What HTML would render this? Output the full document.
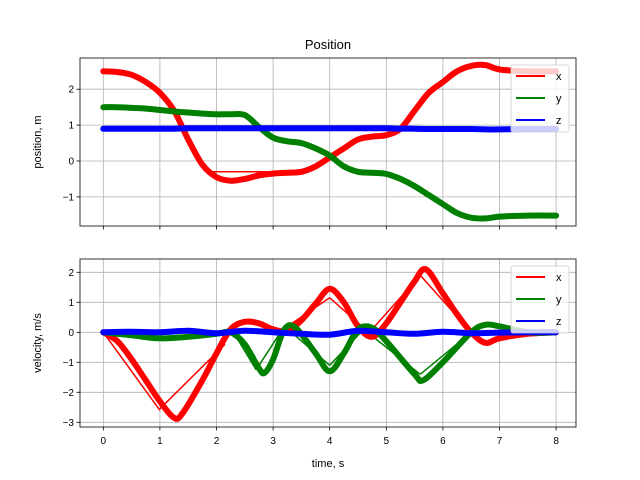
<!DOCTYPE html>
<html><head><meta charset="utf-8"><style>
body{margin:0;background:#fff}
svg{display:block;font-family:"Liberation Sans","DejaVu Sans",sans-serif}
</style></head><body>
<svg id="c" width="640" height="480" viewBox="0 0 640 480">
<rect width="640" height="480" fill="#fff"/>
</svg>
<script>
const xTicks=[0,1,2,3,4,5,6,7,8];
const posTicks=[-1,0,1,2];
const velTicks=[-3,-2,-1,0,1,2];
const posT=[0,0.25,0.5,0.75,1,1.25,1.5,1.75,2,2.25,2.5,2.75,3,3.25,3.5,3.75,4,4.25,4.5,4.75,5,5.25,5.5,5.75,6,6.25,6.5,6.75,7,7.5,8];
const posX=[2.5,2.48,2.4,2.2,1.9,1.4,0.6,-0.1,-0.45,-0.55,-0.5,-0.4,-0.35,-0.33,-0.3,-0.15,0.1,0.35,0.6,0.68,0.72,0.9,1.4,1.9,2.2,2.5,2.65,2.67,2.55,2.5,2.5];
const posY=[1.5,1.5,1.48,1.46,1.42,1.38,1.35,1.32,1.3,1.3,1.28,0.95,0.65,0.55,0.5,0.35,0.15,-0.15,-0.3,-0.33,-0.36,-0.5,-0.7,-0.95,-1.2,-1.45,-1.58,-1.6,-1.55,-1.52,-1.52];
const posZ=[0.9,0.9,0.9,0.9,0.9,0.9,0.91,0.91,0.91,0.91,0.91,0.91,0.91,0.91,0.91,0.91,0.91,0.91,0.91,0.91,0.91,0.9,0.9,0.89,0.89,0.89,0.89,0.88,0.88,0.89,0.89];
const velT=[0,0.25,0.5,0.75,1,1.25,1.4,1.75,2,2.25,2.5,2.75,3,3.25,3.5,3.75,4,4.25,4.5,4.75,5,5.25,5.5,5.7,6,6.25,6.5,6.75,7,7.5,8];
const velX=[0,-0.3,-0.9,-1.6,-2.3,-2.85,-2.7,-1.6,-0.7,0.1,0.35,0.3,0.1,0.05,0.4,0.95,1.45,1.0,0.2,-0.15,0.3,1.0,1.7,2.1,1.3,0.6,0,-0.35,-0.2,-0.05,0];
const vyT=[0,0.5,1,1.5,2,2.25,2.5,2.75,2.85,3,3.2,3.4,3.75,4,4.25,4.5,4.75,5,5.5,5.65,6,6.5,6.75,7,7.5,8];
const velY=[0,-0.1,-0.2,-0.15,-0.05,0,-0.4,-1.2,-1.35,-0.9,0.1,0.15,-0.7,-1.3,-0.7,0.1,0.15,-0.3,-1.4,-1.6,-1.0,0,0.25,0.2,0,0];
const vzT=[0,0.5,1,1.5,2,2.5,3,3.5,4,4.5,5,5.5,6,6.5,7,7.5,8];
const velZ=[0,0.02,0,0.05,-0.03,0.05,0,-0.05,-0.08,0.05,0,-0.05,0.02,-0.03,-0.01,0,0];
const thinPosX=[[[1.9,-0.3],[2.9,-0.3]]];
const thinVelX=[[[0,0],[1.0,-2.6]],[[1.0,-2.55],[2.15,-0.4]],[[3.1,0],[4,1.15]],[[4,1.15],[4.75,-0.1]],[[4.75,0.1],[5.6,1.9]],[[5.6,1.9],[6.5,0]]];
const thinVelY=[[[2.3,0],[2.7,-1.25]],[[2.7,-1.25],[3.2,0.2]],[[3.2,0.2],[4,-1.1]],[[4,-1.1],[4.6,0.1]],[[4.6,0.1],[5.6,-1.4]],[[5.6,-1.4],[6.5,0]]];

const NS="http://www.w3.org/2000/svg";
const svg=document.getElementById('c');
function el(t,a,p){const e=document.createElementNS(NS,t);for(const k in a)e.setAttribute(k,a[k]);(p||svg).appendChild(e);return e;}
const sx=t=>103.3+t*56.6;
const L=80,R=576;
function smooth(pts){
  let d='M'+pts[0][0].toFixed(1)+' '+pts[0][1].toFixed(1);
  for(let i=0;i<pts.length-1;i++){
    const p0=pts[Math.max(0,i-1)],p1=pts[i],p2=pts[i+1],p3=pts[Math.min(pts.length-1,i+2)];
    const c1=[p1[0]+(p2[0]-p0[0])/6,p1[1]+(p2[1]-p0[1])/6];
    const c2=[p2[0]-(p3[0]-p1[0])/6,p2[1]-(p3[1]-p1[1])/6];
    d+='C'+c1[0].toFixed(1)+' '+c1[1].toFixed(1)+' '+c2[0].toFixed(1)+' '+c2[1].toFixed(1)+' '+p2[0].toFixed(1)+' '+p2[1].toFixed(1);
  }
  return d;
}
function panel(name,top,bot,y0,ppu,ticks,yl,series,thins,showX){
  const sy=v=>y0-v*ppu;
  const g=el('g',{});
  
  
  xTicks.forEach(t=>{el('line',{x1:sx(t),x2:sx(t),y1:top,y2:bot,stroke:'#b0b0b0','stroke-width':0.8},g);
    el('line',{x1:sx(t),x2:sx(t),y1:bot,y2:bot+3.5,stroke:'#000','stroke-width':0.8},g);
    if(showX){const tx=el('text',{x:sx(t),y:bot+17,'text-anchor':'middle','font-size':10},g);tx.textContent=t;}});
  ticks.forEach(v=>{el('line',{x1:L,x2:R,y1:sy(v),y2:sy(v),stroke:'#b0b0b0','stroke-width':0.8},g);
    el('line',{x1:L-3.5,x2:L,y1:sy(v),y2:sy(v),stroke:'#000','stroke-width':0.8},g);
    const tx=el('text',{x:L-6,y:sy(v)+3.5,'text-anchor':'end','font-size':10},g);tx.textContent=(v<0?'\u2212'+(-v):v);
    });
  thins.forEach(([segs,c])=>segs.forEach(s=>{const ln=el('line',{x1:sx(s[0][0]),y1:sy(s[0][1]),x2:sx(s[1][0]),y2:sy(s[1][1]),stroke:c,'stroke-width':1.5},g);
    }));
  series.forEach(([ts,vs,c,n])=>{const pts=ts.map((t,i)=>[sx(t),sy(vs[i])]);
    const p=el('path',{d:smooth(pts),fill:'none',stroke:c,'stroke-width':6,'stroke-linejoin':'round','stroke-linecap':'round'},g);
    });
  el('rect',{x:L,y:top,width:R-L,height:bot-top,fill:'none',stroke:'#000','stroke-width':0.8},g);
  const yt=el('text',{x:0,y:0,'text-anchor':'middle','font-size':11,transform:`translate(41,${(top+bot)/2}) rotate(-90)`},g);yt.textContent=yl;
  
  const lg=el('g',{},g);
  const ly=top+7;
  el('rect',{x:511,y:ly,width:58,height:67,rx:2,fill:'#fff','fill-opacity':0.8,stroke:'#ccc','stroke-width':0.8},lg);
  [['x','red'],['y','green'],['z','blue']].forEach(([n,c],i)=>{const yy=ly+11+i*22;
    el('line',{x1:516,x2:545,y1:yy,y2:yy,stroke:c,'stroke-width':2},lg);
    const tx=el('text',{x:556,y:yy+4,'font-size':11},lg);tx.textContent=n;});
}
panel('position-plot',58,226,161,35.9,posTicks,'position, m',
 [[posT,posX,'red','series-x'],[posT,posY,'green','series-y'],[posT,posZ,'blue','series-z']],[[thinPosX,'red']],false);
panel('velocity-plot',259,427,332.3,30,velTicks,'velocity, m/s',
 [[velT,velX,'red','series-x'],[vyT,velY,'green','series-y'],[vzT,velZ,'blue','series-z']],[[thinVelX,'red'],[thinVelY,'green']],true);
const ti=el('text',{x:328,y:49,'text-anchor':'middle','font-size':13});ti.textContent='Position';

const xl=el('text',{x:328,y:467,'text-anchor':'middle','font-size':11});xl.textContent='time, s';

</script>
</body></html>
